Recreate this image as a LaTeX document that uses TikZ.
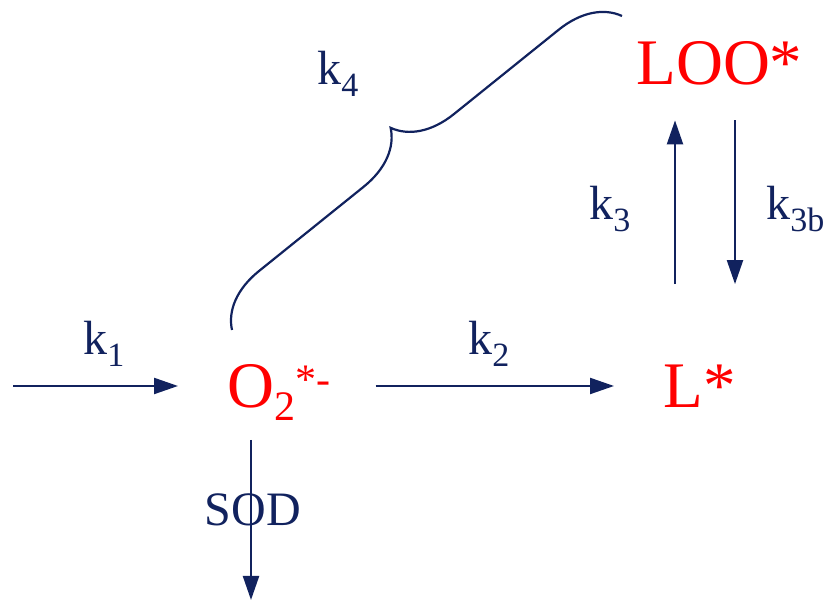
\documentclass[tikz,border=0pt]{standalone}
\usepackage{fontspec}
\setmainfont{Liberation Serif}
\usetikzlibrary{arrows.meta,decorations.pathreplacing}
\definecolor{navy}{RGB}{17,34,94}
\newcommand{\lowidx}[1]{\raisebox{-6pt}{\fontsize{17}{17}\selectfont #1}}
\tikzset{
  species/.style={text=red, inner sep=0pt, font=\fontsize{32.5}{32.5}\selectfont, text height=21.5pt, text depth=0pt},
  rate/.style={text=navy, inner sep=0pt, font=\fontsize{24}{24}\selectfont},
  flow/.style={draw=navy, line width=1.1pt, -{Triangle[length=12pt,width=8pt]}}
}
\begin{document}
\begin{tikzpicture}[x=0.5pt,y=0.5pt]
\useasboundingbox (0,0) rectangle (825,603);
\node[species, anchor=west] (o2) at (227,217) {O\raisebox{-6.5pt}{\fontsize{21}{21}\selectfont 2}\raisebox{7pt}{\fontsize{21}{21}\selectfont *-}};
\node[species, anchor=west] (l) at (663,217) {L*};
\node[species, anchor=west] (loo) at (636,539.5) {LOO*};
\coordinate (in) at (13,217);
\coordinate (out) at (251,3);
\coordinate (upcol) at (675,0);
\coordinate (downcol) at (735,0);
\coordinate (bstart) at (232,273);
\coordinate (bend) at (622,587);
\node[rate, anchor=base west] (k1) at (83,248) {k\lowidx{1}};
\node[rate, anchor=base west] (k2) at (468,248) {k\lowidx{2}};
\node[rate, anchor=base west] (k3) at (589,383) {k\lowidx{3}};
\node[rate, anchor=base west] (k3b) at (766,383) {k\lowidx{3b}};
\node[rate, anchor=base west] (k4) at (317,518) {k\lowidx{4}};
\node[rate] (sod) at (253,93) {SOD};
\draw[flow, shorten >=24.5pt] (in) -- (o2.west);
\draw[flow, shorten <=22.5pt, shorten >=24.5pt] (o2.east) -- (l.west);
\draw[flow, shorten <=40pt, shorten >=17.5pt] (l.north -| upcol) -- (loo.south -| upcol);
\draw[flow, shorten <=17.5pt, shorten >=40pt] (loo.south -| downcol) -- (l.north -| downcol);
\draw[flow, shorten <=16pt] ([xshift=12pt]o2.south west) -- (out);
\draw[navy, line width=1.1pt, decorate, decoration={brace, amplitude=29pt}] (bstart) -- (bend);
\end{tikzpicture}
\end{document}
